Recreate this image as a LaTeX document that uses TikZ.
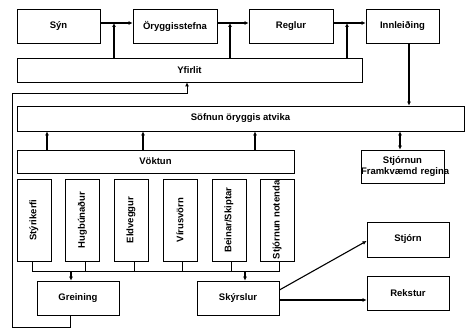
\documentclass[tikz,border=0pt]{standalone}
\usepackage{fontspec}
\setmainfont{Liberation Sans}
\usetikzlibrary{positioning, arrows.meta}

\begin{document}
\begin{tikzpicture}[x=1pt, y=-1pt,
    font=\fontsize{9.5}{10.5}\selectfont\bfseries,
    box/.style={draw, line width=0.8pt, inner sep=0pt, minimum width=82pt, minimum height=34pt, align=center},
    wide/.style={draw, line width=0.8pt, inner sep=0pt, minimum height=24pt},
    vbox/.style={draw, line width=0.8pt, inner sep=0pt, minimum width=82pt, minimum height=34pt, rotate=90},
    link/.style={line width=0.8pt},
    flow/.style={-{Latex[length=4pt,width=4pt]}, line width=1.1pt},
    flowboth/.style={{Latex[length=4pt,width=4pt]}-{Latex[length=4pt,width=4pt]}, line width=1.1pt}]
    \useasboundingbox (0,0) rectangle (466,329);

    % Top row
    \node (syn) [box, minimum width=83pt] at (58.5,26) {Sýn};
    \node (stefna) [box, minimum width=84pt] at (175,26) {Öryggisstefna};
    \node (reglur) [box, minimum width=84pt] at (291,26) {Reglur};
    \node (innl) [box, minimum width=73pt] at (402.5,26) {Innleiðing};

    % Wide bars
    \node (yfirlit) [wide, minimum width=345pt] at (189.5,70) {Yfirlit};
    \node (sofnun) [wide, minimum width=447pt, minimum height=25pt] at (240.5,118.5) {Söfnun öryggis atvika};
    \node (voktun) [wide, minimum width=277pt, minimum height=23pt] at (155.5,161.5) {Vöktun};
    \node (stjornun) [box, minimum width=83pt, minimum height=33pt, text width=83pt] at (402.5,166.5) {Stjórnun\\Framkvæmd~regina};

    % Monitored parts (rotated, so .west is the bottom)
    \node (styri) [vbox] at (34,220) {Stýrikerfi};
    \node (hugb) [vbox] at (82.5,220) {Hugbúnaður};
    \node (eld) [vbox] at (131,220) {Eldveggur};
    \node (virus) [vbox] at (180,220) {Vírusvörn};
    \node (beinar) [vbox] at (229,220) {Beinar/Skiptar};
    \node (notenda) [vbox] at (277,220) {Stjórnun notenda};

    % Bottom row
    \node (greining) [box] at (78,298) {Greining};
    \node (skyrslur) [box] at (238,298) {Skýrslur};
    \node (stjorn) [box, minimum height=35pt] at (408,239.5) {Stjórn};
    \node (rekstur) [box] at (408,293) {Rekstur};

    % Helper points
    \coordinate (j1) at (114,23);
    \coordinate (j2) at (230,23);
    \coordinate (j3) at (347,23);
    \coordinate (v1) at (47,0);
    \coordinate (v2) at (143,0);
    \coordinate (v3) at (255,0);
    \coordinate (bus) at (0,271);
    \coordinate (fb1) at (12,327);
    \coordinate (fb3) at (187,93);

    % Top flow
    \draw[flow] ([yshift=3pt]syn.east) -- ([yshift=3pt]stefna.west);
    \draw[flow] ([yshift=3pt]stefna.east) -- ([yshift=3pt]reglur.west);
    \draw[flow] ([yshift=3pt]reglur.east) -- ([yshift=3pt]innl.west);
    \draw[flow] (yfirlit.north -| j1) -- (j1);
    \draw[flow] (yfirlit.north -| j2) -- (j2);
    \draw[flow] (yfirlit.north -| j3) -- (j3);
    \draw[flow] ([xshift=6.5pt]innl.south) -- ([xshift=6.5pt]innl.south |- sofnun.north);
    \draw[flowboth] ([xshift=-2.5pt]stjornun.north) -- ([xshift=-2.5pt]stjornun.north |- sofnun.south);

    % Vöktun to Söfnun
    \draw[flow] (voktun.north -| v1) -- (sofnun.south -| v1);
    \draw[flow] (voktun.north -| v2) -- (sofnun.south -| v2);
    \draw[flow] (voktun.north -| v3) -- (sofnun.south -| v3);

    % Bus under the parts
    \draw[link] ([xshift=-2pt]styri.west) |- ([xshift=2pt]notenda.west |- bus) -- ([xshift=2pt]notenda.west);
    \draw[link] ([xshift=2.5pt]hugb.west) -- ([xshift=2.5pt]hugb.west |- bus);
    \draw[link] ([xshift=3pt]eld.west) -- ([xshift=3pt]eld.west |- bus);
    \draw[link] ([xshift=2pt]virus.west) -- ([xshift=2pt]virus.west |- bus);
    \draw[link] ([xshift=2pt]beinar.west) -- ([xshift=2pt]beinar.west |- bus);
    \draw[flow] ([xshift=-7pt]greining.north |- bus) -- ([xshift=-7pt]greining.north);
    \draw[flow] ([xshift=7pt]skyrslur.north |- bus) -- ([xshift=7pt]skyrslur.north);

    % Feedback from Greining to Yfirlit
    \draw[link, -{Latex[length=4pt,width=4pt]}] ([xshift=-8pt]greining.south) |- (fb1) |- (fb3) -- (yfirlit.south -| fb3);

    % Reports
    \draw[flow] ([yshift=8pt]skyrslur.east) -- ([yshift=-1.5pt]stjorn.west);
    \draw[flow, line width=1.5pt] ([yshift=-2pt]skyrslur.east) -- ([yshift=-2pt]skyrslur.east -| rekstur.west);
\end{tikzpicture}
\end{document}
